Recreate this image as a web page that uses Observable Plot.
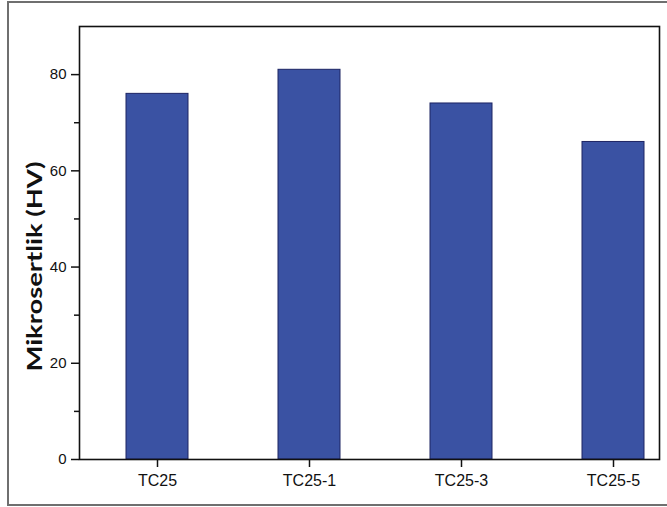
<!DOCTYPE html>
<html><head><meta charset="utf-8">
<script src="https://cdn.jsdelivr.net/npm/d3@7"></script>
<script src="https://cdn.jsdelivr.net/npm/@observablehq/plot@0.6"></script>
<style>
html,body{margin:0;padding:0;background:#fff;overflow:hidden;}
#wrap{position:relative;width:667px;height:507px;}
#chart{position:absolute;left:0;top:0;}
#border{position:absolute;left:7px;top:1px;width:700px;height:505px;box-sizing:border-box;border:2px solid #6f6f6f;pointer-events:none;}
</style></head><body>
<div id="wrap"><div id="chart"></div><div id="border"></div></div>
<script>
const categories = ["TC25", "TC25-1", "TC25-3", "TC25-5"];
const values = [76, 81, 74, 66];
const majorTicks = [0, 20, 40, 60, 80];
const minorTicks = [10, 30, 50, 70];
const yTitle = "Mikrosertlik (HV)";

const data = categories.map((c, i) => ({category: c, value: values[i]}));

const chart = Plot.plot({
  width: 667, height: 507,
  marginLeft: 79, marginRight: 8, marginTop: 26, marginBottom: 48,
  style: {fontFamily: "'Liberation Sans', Arial, sans-serif", color: "#111", background: "transparent"},
  x: {type: "band", domain: categories, range: [79.7, 690.3], paddingInner: 0.594, paddingOuter: 0.297, align: 0.5, label: null},
  y: {domain: [0, 90], label: null},
  marks: [
    Plot.barY(data, {x: "category", y: "value", fill: "#3a52a3", stroke: "#1c2463", strokeWidth: 1}),
    Plot.axisY({ticks: majorTicks, tickSize: 8, tickPadding: 5, fontSize: 15, label: null, strokeWidth: 1.5}),
    Plot.axisY({ticks: minorTicks, tickSize: 5, tickFormat: () => "", label: null, strokeWidth: 1.5}),
    Plot.axisX({tickSize: 8, tickPadding: 7, fontSize: 16, label: null, strokeWidth: 1.5}),
    Plot.frame({stroke: "#111", strokeWidth: 1.6}),
    Plot.text([yTitle], {text: d => d, frameAnchor: "left", textAnchor: "middle", lineAnchor: "middle", rotate: -90, dx: -44, dy: 23.5, fontSize: 20, fontWeight: "bold", fontFamily: "Lato, 'Open Sans', sans-serif", fill: "#111"})
  ]
});

document.getElementById("chart").appendChild(chart);

d3.select(chart).selectAll("text")
  .filter(function() { return this.textContent === yTitle; })
  .attr("textLength", 210)
  .attr("lengthAdjust", "spacingAndGlyphs");
</script>
</body></html>
